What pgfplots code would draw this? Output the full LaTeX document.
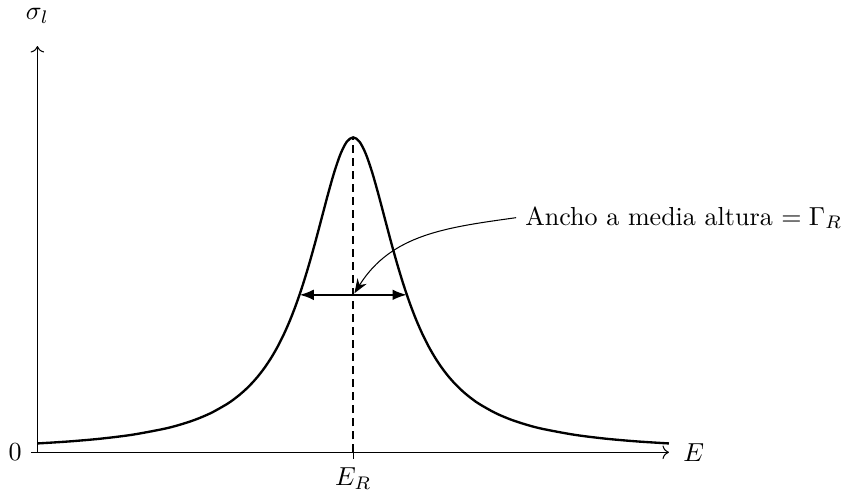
\documentclass[border=0pt]{standalone}
\usepackage{pgfplots}
\pgfplotsset{compat=1.18}
\usetikzlibrary{arrows.meta}

% Lorentzian resonance line shape, peak normalised to 1 at E_R = 5
\pgfplotstableread{
E      sigma
0.0    0.02809
0.5    0.03445
1.0    0.04321
1.5    0.05569
2.0    0.07431
2.25   0.08721
2.5    0.10362
2.75   0.12489
3.0    0.15299
3.1    0.16676
3.2    0.18234
3.3    0.20000
3.4    0.22011
3.5    0.24306
3.6    0.26934
3.7    0.29948
3.8    0.33410
3.9    0.37387
4.0    0.41945
4.1    0.47145
4.2    0.53028
4.3    0.59588
4.4    0.66744
4.5    0.74293
4.6    0.81870
4.7    0.88922
4.8    0.94754
4.9    0.98635
5.0    1.00000
5.1    0.98635
5.2    0.94754
5.3    0.88922
5.4    0.81870
5.5    0.74293
5.6    0.66744
5.7    0.59588
5.8    0.53028
5.9    0.47145
6.0    0.41945
6.1    0.37387
6.2    0.33410
6.3    0.29948
6.4    0.26934
6.5    0.24306
6.6    0.22011
6.7    0.20000
6.8    0.18234
6.9    0.16676
7.0    0.15299
7.25   0.12489
7.5    0.10362
7.75   0.08721
8.0    0.07431
8.5    0.05569
9.0    0.04321
9.5    0.03445
10.0   0.02809
}\lineshape

\begin{document}
\begin{tikzpicture}
\begin{axis}[
  scale only axis,
  width=242.5pt, height=156pt,
  axis lines=left,
  axis line style={line width=0.4pt},
  x axis line style={->},
  y axis line style={->},
  xmin=0, xmax=10,
  ymin=0, ymax=1.29,
  xtick={5}, xticklabels={$E_R$},
  ytick={0}, yticklabels={$0$},
  tick align=outside,
  major tick length=2.5pt,
  tick style={black, line width=0.4pt},
  clip=false,
]
\addplot[black, line width=0.9pt, smooth] table[x=E, y=sigma] {\lineshape};
\addplot[black, line width=0.8pt, dash pattern=on 3pt off 2pt] coordinates {(5,0) (5,1)};
\addplot[black, line width=0.8pt, {Latex[length=5.5pt]}-{Latex[length=5.5pt]}] coordinates {(4.15,0.5) (5.85,0.5)};

\node[anchor=south, yshift=5pt] at (axis description cs:0,1) {$\sigma_l$};
\node[anchor=west, xshift=2pt] at (axis description cs:1,0) {$E$};

\node[anchor=west] (lbl) at (axis cs:7.58,0.745) {Ancho a media altura $=\Gamma_R$};
\draw[-{Stealth[length=5.5pt]}, line width=0.4pt] (lbl.west) to[out=188, in=58] (axis cs:5.02,0.505);
\end{axis}
\end{tikzpicture}
\end{document}
